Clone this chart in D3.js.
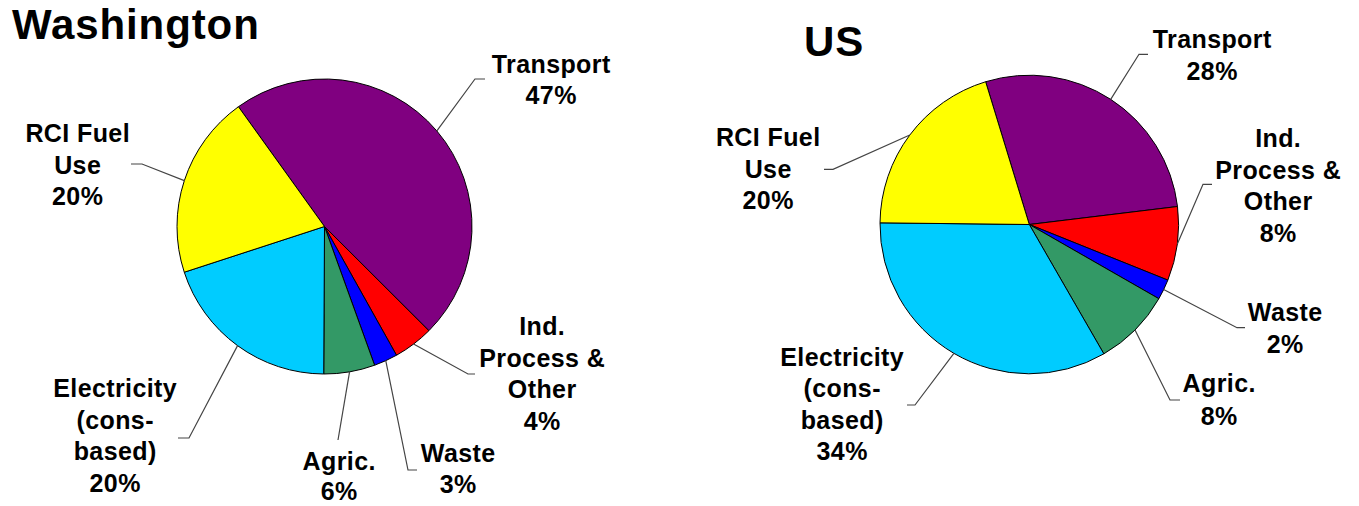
<!DOCTYPE html>
<html>
<head>
<meta charset="utf-8">
<script src="https://cdn.jsdelivr.net/npm/d3@7"></script>
<style>
  html, body { margin: 0; padding: 0; background: #ffffff; }
  svg { display: block; }
  text { font-family: "Liberation Sans", Arial, sans-serif; font-weight: bold; fill: #000; }
</style>
</head>
<body>
<svg id="chart" width="1359" height="506"></svg>
<script>
// ---- data ----
const categories = ["Transport", "Ind. Process & Other", "Waste", "Agric.", "Electricity (cons-based)", "RCI Fuel Use"];
const labelLines = [["Transport"], ["Ind.", "Process &", "Other"], ["Waste"], ["Agric."], ["Electricity", "(cons-", "based)"], ["RCI Fuel", "Use"]];
const washingtonValues = [47.4, 4.4, 2.6, 5.6, 19.9, 20.1];
const usValues = [27.8, 8.0, 2.2, 8.4, 33.5, 20.1];
const chartTitles = ["Washington", "US"];

// ---- styles / layout ----
const sliceColors = ["#800080", "#FF0000", "#0000FF", "#339966", "#00CCFF", "#FFFF00"];

const layouts = [
  {
    values: washingtonValues, title: chartTitles[0], titleX: 12, titleY: 39,
    cx: 324.5, cy: 226.5, r: 147.5, startDeg: -35.7,
    labels: [
      { x: 551, y: 73,  lh: 31, pts: [[475, 79], [485, 79]] },
      { x: 542, y: 335, lh: 31.5, pts: [[468, 374], [475, 374]] },
      { x: 458, y: 462, lh: 31, pts: [[408, 470], [417, 470]] },
      { x: 339, y: 470, lh: 30, pts: [[338, 440]] },
      { x: 115, y: 397, lh: 31.5, pts: [[189, 438], [178, 438]] },
      { x: 77.5, y: 142, lh: 31.5, pts: [[142, 164], [131, 164]] }
    ]
  },
  {
    values: usValues, title: chartTitles[1], titleX: 804, titleY: 56,
    cx: 1029.3, cy: 224.5, r: 149.3, startDeg: -17.0,
    labels: [
      { x: 1212, y: 48,  lh: 32, pts: [[1139, 54.3], [1148, 54.3]] },
      { x: 1278, y: 147, lh: 31.5, pts: [[1203, 184.3], [1212, 184.3]] },
      { x: 1285, y: 321, lh: 31.5, pts: [[1237, 327.7], [1245, 327.7]] },
      { x: 1219, y: 392, lh: 32.5, pts: [[1170, 400], [1180, 400]] },
      { x: 842,  y: 366, lh: 31.3, pts: [[915, 405], [907, 405]] },
      { x: 768,  y: 146, lh: 31.5, pts: [[833, 169.3], [824, 169.3]] }
    ]
  }
];

const svg = d3.select("#chart");

layouts.forEach(L => {
  const start = L.startDeg * Math.PI / 180;
  const pie = d3.pie().sort(null).value(d => d).startAngle(start).endAngle(start + 2 * Math.PI);
  const arcs = pie(L.values);
  const arc = d3.arc().innerRadius(0).outerRadius(L.r);
  const edgeArc = d3.arc().innerRadius(L.r).outerRadius(L.r);

  svg.append("text")
    .attr("x", L.titleX).attr("y", L.titleY)
    .style("font-size", "42px")
    .style("letter-spacing", "0.9px")
    .text(L.title);

  const g = svg.append("g").attr("transform", `translate(${L.cx},${L.cy})`);

  g.selectAll("path.slice").data(arcs).enter().append("path")
    .attr("class", "slice")
    .attr("d", arc)
    .attr("fill", (d, i) => sliceColors[i])
    .attr("stroke", "#000")
    .attr("stroke-width", 1)
    .attr("stroke-linejoin", "round");

  const line = d3.line();
  arcs.forEach((d, i) => {
    const lab = L.labels[i];
    const c = edgeArc.centroid(d);
    const p0 = [c[0] + L.cx, c[1] + L.cy];
    svg.append("path")
      .attr("d", line([p0, ...lab.pts]))
      .attr("fill", "none")
      .attr("stroke", "#444")
      .attr("stroke-width", 1.2);

    const lines = labelLines[i].concat([Math.round(L.values[i]) + "%"]);
    const t = svg.append("text")
      .attr("text-anchor", "middle")
      .style("font-size", "25px")
      .style("letter-spacing", "0.4px");
    lines.forEach((s, k) => {
      t.append("tspan").attr("x", lab.x + 0.2).attr("y", lab.y + k * lab.lh).text(s);
    });
  });
});
</script>
</body>
</html>
